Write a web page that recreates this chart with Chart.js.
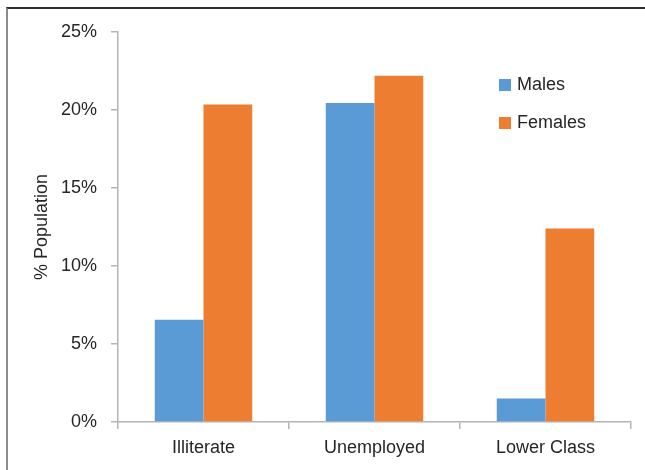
<!DOCTYPE html>
<html>
<head>
<meta charset="utf-8">
<script src="https://cdn.jsdelivr.net/npm/chart.js@4/dist/chart.umd.min.js"></script>
<style>
  html, body { margin: 0; padding: 0; background: #fff; }
  #wrap { position: relative; width: 645px; height: 470px; overflow: hidden; }
  #frame { position: absolute; left: 6px; top: 7px; width: 700px; height: 600px;
           border-top: 2px solid #2e2e2e; border-left: 2px solid #8c8c8c; box-sizing: border-box; }
  canvas { position: absolute; left: 0; top: 0; }
</style>
</head>
<body>
<div id="wrap">
  <div id="frame"></div>
  <canvas id="c" width="645" height="470"></canvas>
</div>
<script>
// Share of population in each group, in percent
const categories = ['Illiterate', 'Unemployed', 'Lower Class'];
const males = [6.55, 20.45, 1.5];
const females = [20.35, 22.2, 12.4];
const seriesNames = ['Males', 'Females'];
const yTicks = [0, 5, 10, 15, 20, 25];

const BLUE = '#5B9BD5';
const ORANGE = '#ED7D31';
const AXIS = '#b4b4b8';
const TEXT = '#262626';
const FONT = "'Liberation Sans', Arial, sans-serif";
const SIZE = 18;

// Legend drawn inside the plot, stacked vertically
const innerLegend = {
  id: 'innerLegend',
  afterDraw(chart) {
    const ctx = chart.ctx;
    ctx.save();
    ctx.font = SIZE + 'px ' + FONT;
    ctx.textBaseline = 'middle';
    ctx.textAlign = 'left';
    chart.data.datasets.forEach((ds, i) => {
      const y = 85 + i * 38;
      ctx.fillStyle = ds.backgroundColor;
      ctx.fillRect(499, y - 6, 12, 12);
      ctx.fillStyle = TEXT;
      ctx.fillText(ds.label, 517, y);
    });
    ctx.restore();
  }
};

new Chart(document.getElementById('c'), {
  type: 'bar',
  data: {
    labels: categories,
    datasets: [
      { label: seriesNames[0], data: males, backgroundColor: BLUE },
      { label: seriesNames[1], data: females, backgroundColor: ORANGE }
    ]
  },
  options: {
    responsive: false,
    animation: false,
    layout: { padding: { left: 0, right: 14, top: 32, bottom: 0 } },
    plugins: { legend: { display: false }, tooltip: { enabled: false } },
    datasets: { bar: { categoryPercentage: 0.57, barPercentage: 1.0 } },
    scales: {
      x: {
        grid: { offset: true, drawOnChartArea: false, drawTicks: true, tickLength: 7, color: AXIS, lineWidth: 1.5 },
        border: { color: AXIS, width: 1.5 },
        ticks: { color: TEXT, font: { family: FONT, size: SIZE }, padding: 8, maxRotation: 0 },
        afterFit(scale) { scale.height = 48; }
      },
      y: {
        min: 0, max: 25,
        afterBuildTicks(scale) { scale.ticks = yTicks.map(v => ({ value: v })); },
        grid: { drawOnChartArea: false, drawTicks: true, tickLength: 7, color: AXIS, lineWidth: 1.5 },
        border: { color: AXIS, width: 1.5 },
        ticks: { color: TEXT, font: { family: FONT, size: SIZE }, padding: 14, callback: v => v + '%' },
        title: { display: true, text: '% Population', color: TEXT, font: { family: FONT, size: SIZE }, padding: { top: 31, bottom: 0 } },
        afterFit(scale) { scale.width = 118; }
      }
    }
  },
  plugins: [innerLegend]
});
</script>
</body>
</html>
